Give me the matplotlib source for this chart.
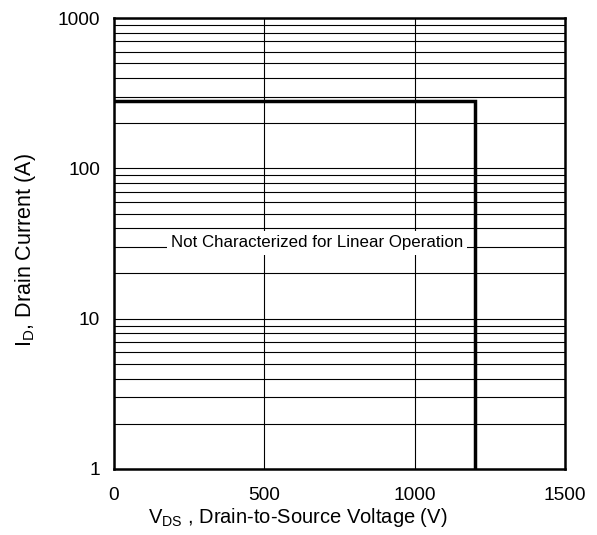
import numpy as np
import matplotlib.pyplot as plt
from matplotlib.ticker import LogLocator, FixedLocator

plt.rcParams['font.family'] = ['Liberation Sans', 'DejaVu Sans']

# safe operating boundary
vds = [0, 1200, 1200]
id_max = [280, 280, 1]

x_ticks = [0, 500, 1000, 1500]
y_ticks = [1, 10, 100, 1000]

fig = plt.figure(figsize=(5.97, 5.35), dpi=100)
ax = fig.add_axes([0.191, 0.1234, 0.7555, 0.8426])

ax.set_xscale('linear')
ax.set_yscale('log')
ax.set_xlim(0, 1500)
ax.set_ylim(1, 1000)

ax.xaxis.set_major_locator(FixedLocator(x_ticks))
ax.yaxis.set_major_locator(FixedLocator(y_ticks))
ax.yaxis.set_minor_locator(LogLocator(base=10, subs=np.arange(2, 10)))
ax.set_xticklabels([str(t) for t in x_ticks])
ax.set_yticklabels([str(t) for t in y_ticks])
ax.yaxis.set_minor_formatter(plt.NullFormatter())

ax.grid(True, which='major', axis='both', color='black', linewidth=0.8)
ax.grid(True, which='minor', axis='y', color='black', linewidth=0.8)
ax.tick_params(which='both', length=0, labelsize=13.8)
ax.tick_params(axis='x', pad=13)
ax.tick_params(axis='y', pad=10)

for s in ax.spines.values():
    s.set_linewidth(1.8)

ax.plot(vds, id_max, color='black', linewidth=2.5, solid_joinstyle='miter', zorder=5)

ax.text(675, 32, 'Not Characterized for Linear Operation', ha='center', va='center',
        fontsize=12.2, zorder=4,
        bbox=dict(facecolor='white', edgecolor='none', pad=3))

ax.set_xlabel(r'V$_{\mathregular{DS}}$ , Drain-to-Source Voltage (V)', fontsize=14.5)
ax.xaxis.set_label_coords(0.407, -0.083)
ax.set_ylabel(r'I$_{\mathregular{D}}$, Drain Current (A)', fontsize=15.5)
ax.yaxis.set_label_coords(-0.168, 0.486)

fig.savefig('out.png', dpi=100)
